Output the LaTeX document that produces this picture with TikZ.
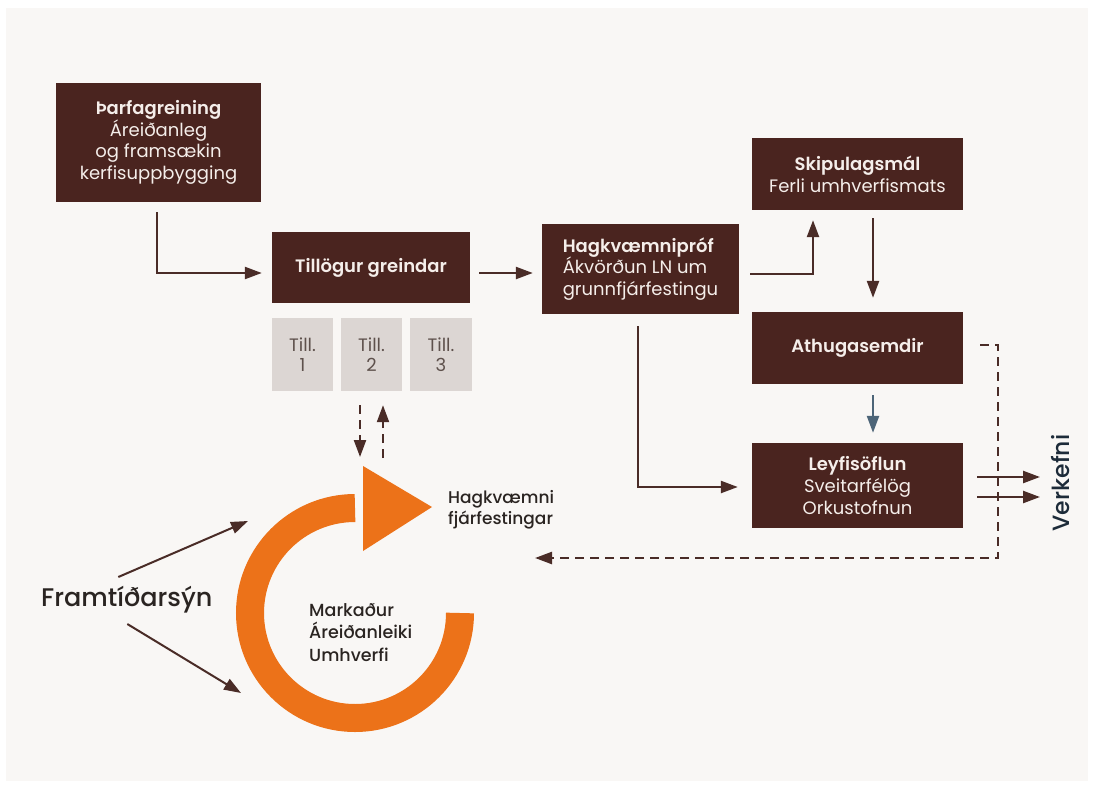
\documentclass[tikz,border=0pt]{standalone}
\usepackage{fontspec}
\setmainfont{Poppins}[BoldFont={Poppins Medium}]
\newfontfamily\semib{Poppins SemiBold}
\usetikzlibrary{arrows.meta}
\definecolor{bgc}{HTML}{F9F7F5}
\definecolor{boxc}{HTML}{4A241F}
\definecolor{arrc}{HTML}{4A2C27}
\definecolor{tillc}{HTML}{DCD6D3}
\definecolor{tilltxt}{HTML}{5E514C}
\definecolor{boxtxt}{HTML}{F5EEEA}
\definecolor{orng}{HTML}{EC7219}
\definecolor{navy}{HTML}{1D2B39}
\definecolor{bluegrey}{HTML}{4D6578}
\definecolor{darktxt}{HTML}{2A2421}
\newcommand{\hd}[1]{{\semib #1}}
\begin{document}
\begin{tikzpicture}[x=1pt,y=-1pt,
  brownbox/.style={fill=boxc,text=boxtxt,inner sep=0pt,align=center,
     font=\fontsize{18}{21.7}\selectfont},
  tillbox/.style={fill=tillc,text=tilltxt,inner sep=0pt,align=center,
     minimum height=73pt,font=\fontsize{18}{20}\selectfont},
  conn/.style={draw=arrc,line width=2.4pt,-{Triangle[length=17pt,width=12pt]}},
  dconn/.style={conn,dash pattern=on 9pt off 6pt},
  lbl/.style={text=darktxt,inner sep=0pt,align=left},
]
\useasboundingbox (0,0) rectangle (1094,787);
\fill[white] (0,0) rectangle (1094,787);
\fill[bgc] (6,8) rectangle (1088,781);

% boxes
\node[brownbox,minimum width=205pt,minimum height=119pt] (tharf) at (158.5,142.5)
  {\hd{Þarfagreining}\\Áreiðanleg\\og framsækin\\kerfisuppbygging};
\node[brownbox,minimum width=198pt,minimum height=71pt] (till) at (371,267.5)
  {\hd{Tillögur greindar}};
\node[tillbox,minimum width=61pt] (t1) at (302.5,354.5) {Till.\\1};
\node[tillbox,minimum width=61pt] (t2) at (371.5,354.5) {Till.\\2};
\node[tillbox,minimum width=62pt] (t3) at (441,354.5) {Till.\\3};
\node[brownbox,align=left,minimum width=197pt,minimum height=90pt] (hagk) at (640.5,269)
  {\hd{Hagkvæmnipróf}\\Ákvörðun LN um\\grunnfjárfestingu};
\node[brownbox,minimum width=211pt,minimum height=72pt] (skip) at (857.5,174)
  {\hd{Skipulagsmál}\\Ferli umhverfismats};
\node[brownbox,minimum width=211pt,minimum height=72pt] (athug) at (857.5,348)
  {\hd{Athugasemdir}};
\node[brownbox,minimum width=211pt,minimum height=85pt] (leyfi) at (857.5,485.5)
  {\hd{Leyfisöflun}\\Sveitarfélög\\Orkustofnun};

% texts
\node[text=navy,rotate=90,inner sep=0pt,font=\fontsize{23.5}{26}\selectfont\bfseries] (verk) at (1061,483) {Verkefni};
\node[lbl,anchor=west,font=\fontsize{25.5}{30}\selectfont\bfseries] (fram) at (41,600) {Framtíðarsýn};
\node[lbl,anchor=west,font=\fontsize{17}{20.5}\selectfont\bfseries] (hagfj) at (448,510) {Hagkvæmni\\fjárfestingar};
\node[lbl,anchor=west,font=\fontsize{17.5}{22.5}\selectfont\bfseries] (mark) at (309,632.5) {Markaður\\Áreiðanleiki\\Umhverfi};

% orange cycle
\draw[orng,line width=28pt] (355,508) arc[start angle=270,end angle=0,radius=105];
\fill[orng] (363,466) -- (363,551) -- (432,507) -- cycle;

% free-end coordinates
\coordinate (dn) at (360,457);
\coordinate (upst) at (383,458);
\coordinate (a1) at (248,521);
\coordinate (a2) at (241,693);
\coordinate (dc) at (998,558);
\coordinate (fb) at (535,558);
\coordinate (v1) at (1040,477);
\coordinate (v2) at (1040,497);

% connectors
\draw[conn] ([xshift=-1.5pt,yshift=-10pt]tharf.south) |- ([xshift=-10pt,yshift=-5.5pt]till.west);
\draw[conn] ([xshift=9pt,yshift=-5.5pt]till.east) -- ([xshift=-9pt,yshift=-4pt]hagk.west);
\draw[conn] ([xshift=11pt,yshift=-5pt]hagk.east) -| ([xshift=-44.5pt,yshift=-10pt]skip.south);
\draw[conn] ([xshift=15.5pt,yshift=-8pt]skip.south) -- ([xshift=15.5pt,yshift=14pt]athug.north);
\draw[conn,draw=bluegrey] ([xshift=15.5pt,yshift=-11pt]athug.south) -- ([xshift=15.5pt,yshift=10pt]leyfi.north);
\draw[conn] ([xshift=-2.5pt,yshift=-12pt]hagk.south) |- ([xshift=-14pt,yshift=-1.5pt]leyfi.west);
\draw[conn] ([xshift=14pt,yshift=8.5pt]leyfi.east) -- (v1);
\draw[conn] ([xshift=14pt,yshift=-11.5pt]leyfi.east) -- (v2);
\draw[dconn] ([xshift=17pt,yshift=3pt]athug.east) -| (dc) -- (fb);
\draw[dconn,line width=2.2pt] ([xshift=-11.5pt,yshift=-14pt]t2.south) -- (dn);
\draw[dconn,line width=2.2pt] (upst) -- ([xshift=11.5pt,yshift=-14pt]t2.south);
\draw[conn,line width=2pt] ([xshift=-8.5pt,yshift=23pt]fram.center) -- (a1);
\draw[conn,line width=2pt] ([xshift=0.5pt,yshift=-24pt]fram.center) -- (a2);
\end{tikzpicture}
\end{document}
